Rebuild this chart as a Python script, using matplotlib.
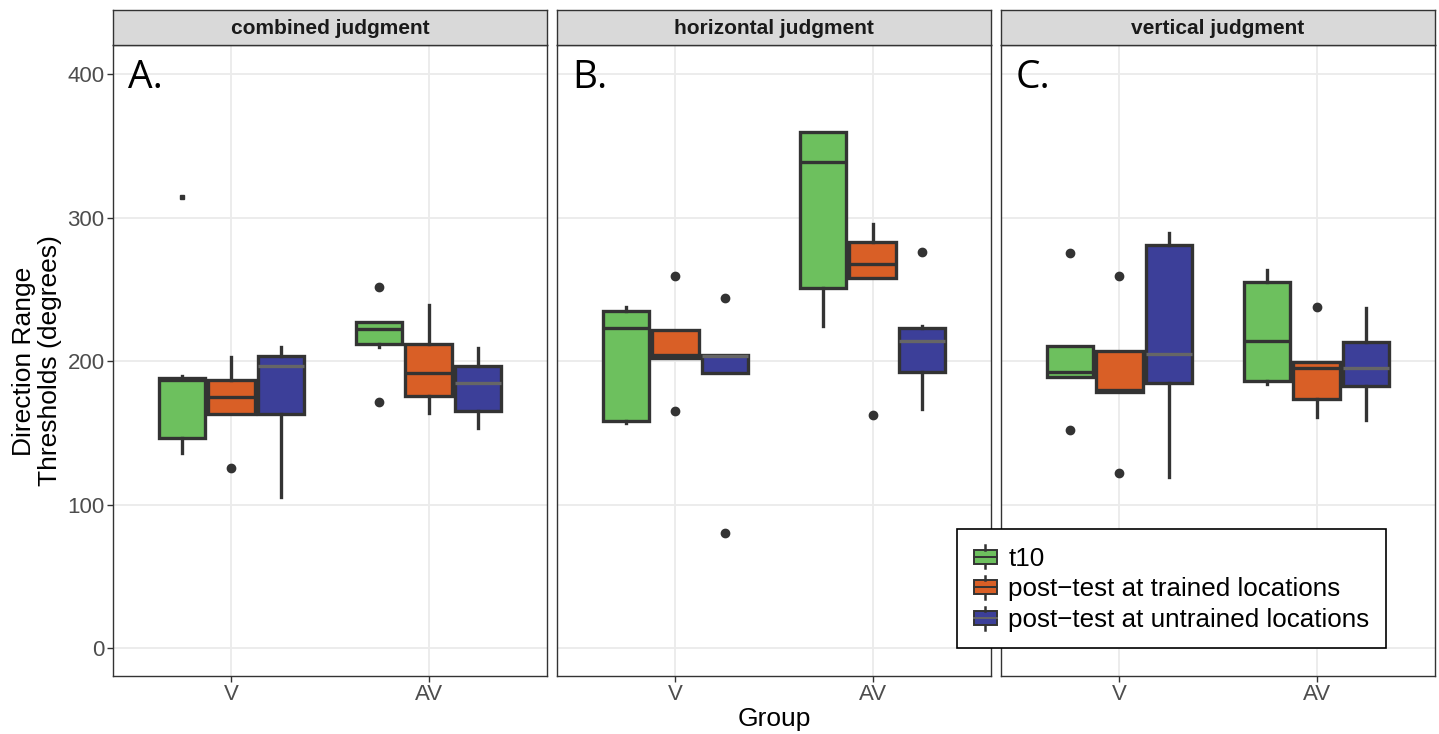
import matplotlib
matplotlib.use("Agg")
import matplotlib.pyplot as plt
from matplotlib.legend_handler import HandlerBase
from matplotlib.patches import Rectangle, Patch
from matplotlib.lines import Line2D

plt.rcParams['font.family'] = ['Liberation Sans', 'DejaVu Sans']

# ---------------- data ----------------
panels = ["combined judgment", "horizontal judgment", "vertical judgment"]
panel_letters = ["A.", "B.", "C."]
groups = ["V", "AV"]
series = ["t10", "post\u2212test at trained locations", "post\u2212test at untrained locations"]

# stats indexed [panel][series][group]
whislo_values = [
    [[135.7, 210.0], [163.1, 163.6], [105.5, 153.6]],
    [[157.1, 224.7], [202.4, 258.2], [191.5, 166.6]],
    [[188.7, 183.8], [178.7, 161.2], [119.4, 158.9]],
]
q1_values = [
    [[146.2, 211.9], [163.1, 175.7], [163.1, 165.4]],
    [[158.2, 251.2], [202.4, 258.2], [191.5, 192.2]],
    [[188.7, 186.1], [178.7, 173.6], [185.0, 182.9]],
]
median_values = [
    [[186.8, 222.4], [174.7, 191.5], [196.4, 184.5]],
    [[222.8, 338.8], [204.3, 267.5], [203.6, 214.0]],
    [[192.7, 214.0], [179.9, 195.0], [204.7, 195.4]],
]
q3_values = [
    [[188.4, 227.5], [186.8, 211.9], [203.8, 196.6]],
    [[235.1, 359.7], [221.7, 283.2], [204.3, 223.3]],
    [[210.8, 255.4], [207.0, 199.1], [280.9, 213.5]],
]
whishi_values = [
    [[189.8, 227.5], [203.1, 239.1], [210.0, 208.9]],
    [[237.5, 359.7], [221.7, 295.4], [204.3, 224.7]],
    [[210.8, 263.5], [207.0, 199.1], [289.1, 236.8]],
]
flier_values = [
    [[[], [251.4, 171.3]], [[125.3], []], [[], []]],
    [[[], []], [[259.3, 165.2], [162.8]], [[243.8, 80.0], [276.1]]],
    [[[275.1, 152.0], []], [[259.3, 121.8], [237.9]], [[], []]],
]
# tiny point in panel A (t10, V)
small_point_values = [314.6]

yticks = [0, 100, 200, 300, 400]

fills = ["#6DC05E", "#D95F26", "#3C3F99"]
median_colors = ["#333333", "#333333", "#666666"]
edge = "#333333"

# ---------------- figure ----------------
W, H = 1439, 734
fig = plt.figure(figsize=(W / 100, H / 100), dpi=100)

panel_left = [113, 557, 1001]
panel_w = 434
plot_top, plot_bot = 45, 676
strip_top = 10

dodge = 0.25
bw = 0.235
lw_box = 2.4

axes = []
for p in range(3):
    ax = fig.add_axes([panel_left[p] / W, 1 - plot_bot / H, panel_w / W, (plot_bot - plot_top) / H])
    axes.append(ax)
    ax.set_xlim(0.4, 2.6)
    ax.set_ylim(-19.5, 420.4)
    ax.set_yticks(yticks)
    ax.set_xticks([1, 2])
    ax.set_xticklabels(groups)
    ax.grid(True, color="#EBEBEB", lw=1.3, zorder=0)
    ax.set_axisbelow(True)
    for s in ax.spines.values():
        s.set_color("#333333")
        s.set_linewidth(1.0)
    ax.tick_params(axis='both', colors="#333333", length=4, width=1.0,
                   labelsize=16, labelcolor="#4D4D4D", pad=2)
    if p > 0:
        ax.tick_params(axis='y', length=0, labelleft=False)

    for s in range(3):
        stats = []
        positions = []
        for g in range(2):
            stats.append(dict(
                whislo=whislo_values[p][s][g], q1=q1_values[p][s][g],
                med=median_values[p][s][g], q3=q3_values[p][s][g],
                whishi=whishi_values[p][s][g], fliers=flier_values[p][s][g]))
            positions.append(g + 1 + (s - 1) * dodge)
        ax.bxp(stats, positions=positions, widths=bw, patch_artist=True, showcaps=False,
               boxprops=dict(facecolor=fills[s], edgecolor=edge, linewidth=lw_box),
               medianprops=dict(color=median_colors[s], linewidth=lw_box, solid_capstyle='butt'),
               whiskerprops=dict(color=edge, linewidth=lw_box),
               flierprops=dict(marker='o', markerfacecolor=edge, markeredgecolor=edge,
                               markersize=6, linestyle='none'),
               manage_ticks=False, zorder=3)

    if p == 0:
        ax.plot([1 - dodge] * len(small_point_values), small_point_values, marker='s',
                color=edge, markersize=2.3, linestyle='none', zorder=4)

    ax.text(0.034, 0.978, panel_letters[p], transform=ax.transAxes, fontsize=28,
            family=['Open Sans', 'DejaVu Sans'], va='top', ha='left', color='black')

    # strip
    sax = fig.add_axes([panel_left[p] / W, 1 - plot_top / H, panel_w / W, (plot_top - strip_top) / H])
    sax.set_facecolor("#D9D9D9")
    sax.set_xticks([])
    sax.set_yticks([])
    for sp in sax.spines.values():
        sp.set_color("#333333")
        sp.set_linewidth(1.0)
    sax.text(0.5, 0.47, panels[p], transform=sax.transAxes, ha='center', va='center',
             fontsize=15, fontweight='bold', color="#1A1A1A")

fig.text(37 / W, 1 - 361 / H, "Direction Range\nThresholds (degrees)", rotation=90,
         ha='center', va='center', fontsize=19, color='black', linespacing=1.1)
fig.text((113 + 1435) / 2 / W, 1 - 719 / H, "Group", ha='center', va='center',
         fontsize=19, color='black')


class BoxKeyHandler(HandlerBase):
    def create_artists(self, legend, orig_handle, xdescent, ydescent, width, height, fontsize, trans):
        fc = orig_handle.get_facecolor()
        mc = orig_handle.mcolor
        x0 = -xdescent + width * 0.04
        w = width * 0.92
        y0 = -ydescent
        h = height
        box = Rectangle((x0, y0 + h * 0.2), w, h * 0.6, facecolor=fc, edgecolor=edge,
                        linewidth=1.4, transform=trans)
        med = Line2D([x0, x0 + w], [y0 + h * 0.5] * 2, color=mc, lw=1.4, transform=trans)
        wt = Line2D([x0 + w / 2] * 2, [y0 + h * 0.8, y0 + h * 1.0], color=edge, lw=1.8, transform=trans)
        wb = Line2D([x0 + w / 2] * 2, [y0, y0 + h * 0.2], color=edge, lw=1.8, transform=trans)
        return [box, med, wt, wb]


handles = []
for s in range(3):
    ph = Patch(facecolor=fills[s], edgecolor=edge, label=series[s])
    ph.mcolor = median_colors[s]
    handles.append(ph)

leg = fig.legend(handles=handles, labels=series, loc='upper left',
                 bbox_to_anchor=(957 / W, 1 - 529 / H), borderaxespad=0,
                 handler_map={Patch: BoxKeyHandler()}, fontsize=18.7,
                 handlelength=0.95, handleheight=1.0, handletextpad=0.4,
                 labelspacing=0.2, borderpad=0.62, fancybox=False,
                 frameon=True, edgecolor='black', framealpha=1)
leg.get_frame().set_linewidth(1.2)

fig.savefig("out.png", dpi=100)
